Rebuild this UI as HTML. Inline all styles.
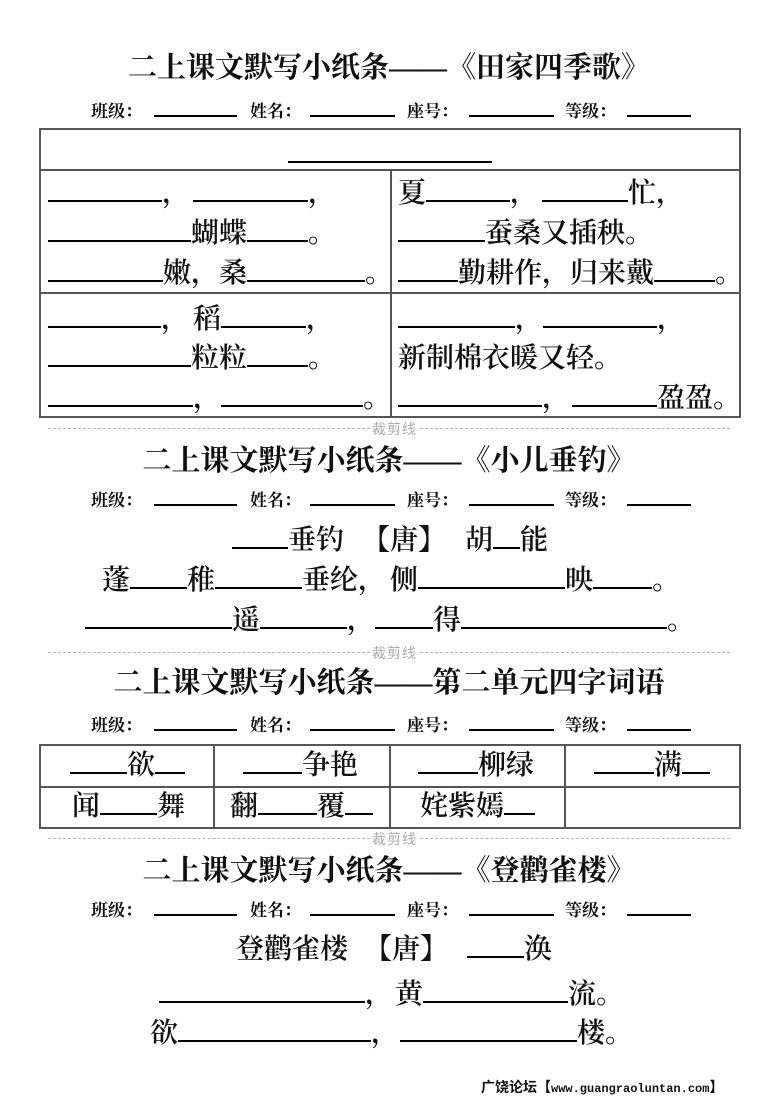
<!DOCTYPE html>
<html><head><meta charset="utf-8">
<style>
html,body{margin:0;padding:0;background:#fff;}
body{width:780px;height:1103px;position:relative;overflow:hidden;}
.t{position:absolute;left:0;width:778px;text-align:center;white-space:nowrap;font-family:"Liberation Serif","Noto Serif CJK SC",serif;font-weight:bold;font-size:29px;line-height:40px;height:40px;color:#111;}
.l{position:absolute;white-space:nowrap;font-family:"Liberation Serif","Noto Serif CJK SC",serif;font-weight:600;font-size:28px;line-height:40px;height:40px;color:#111;}
.i{position:absolute;left:91px;white-space:nowrap;font-family:"Liberation Serif","Noto Serif CJK SC",serif;font-weight:bold;font-size:17px;line-height:24px;height:24px;color:#111;}
.u{display:inline-block;height:0;border-bottom:2px solid #000;vertical-align:baseline;}
.box{position:absolute;border:2px solid #555;box-sizing:border-box;}
.h{position:absolute;height:2px;background:#555;}
.v{position:absolute;width:2px;background:#555;}
.cut{position:absolute;left:48px;width:682px;height:16px;}
.cut .a{position:absolute;top:7px;height:0;border-top:1px dashed #b5b5b5;}
.cut .lab{position:absolute;left:324px;top:-2px;font-family:"Liberation Sans","Noto Sans CJK SC",sans-serif;font-size:14px;line-height:20px;color:#aaa;letter-spacing:1px;}
.ft{position:absolute;left:481px;top:1077px;white-space:nowrap;font-family:"Liberation Sans","Noto Sans CJK SC",sans-serif;font-weight:bold;font-size:14px;line-height:20px;color:#111;}
.ft .m{font-family:"Liberation Mono",monospace;font-size:12px;}
</style></head><body>

<!-- Section 1 -->
<div class="t" style="top:48px;">二上课文默写小纸条——《田家四季歌》</div>
<div class="i" style="top:100px;">班级：<span class="u" style="margin-left:12px;width:83px"></span><span style="margin-left:13px">姓名：</span><span class="u" style="margin-left:9px;width:85px"></span><span style="margin-left:12px">座号：</span><span class="u" style="margin-left:11px;width:85px"></span><span style="margin-left:11px">等级：</span><span class="u" style="margin-left:11px;width:64px"></span></div>

<div class="box" style="left:39px;top:128px;width:702px;height:290px;"></div>
<div class="h" style="left:39px;top:169px;width:702px;"></div>
<div class="h" style="left:39px;top:292px;width:702px;"></div>
<div class="v" style="left:390px;top:169px;height:249px;"></div>
<div style="position:absolute;left:288px;top:161px;width:204px;height:2px;background:#000;"></div>

<div class="l" style="left:48px;top:174px;"><span class="u" style="width:114px"></span>，<span class="u" style="margin-left:3px;width:115px"></span>，</div>
<div class="l" style="left:48px;top:214px;"><span class="u" style="width:143px"></span>蝴蝶<span class="u" style="width:61px"></span>。</div>
<div class="l" style="left:48px;top:254px;"><span class="u" style="width:115px"></span>嫩，桑<span class="u" style="width:118px"></span>。</div>

<div class="l" style="left:398px;top:174px;">夏<span class="u" style="width:84px"></span>，<span class="u" style="margin-left:4px;width:86px"></span>忙，</div>
<div class="l" style="left:398px;top:214px;"><span class="u" style="width:87px"></span>蚕桑又插秧。</div>
<div class="l" style="left:398px;top:254px;"><span class="u" style="width:60px"></span>勤耕作，归来戴<span class="u" style="width:61px"></span>。</div>

<div class="l" style="left:48px;top:300px;"><span class="u" style="width:113px"></span>，<span style="margin-left:4px">稻</span><span class="u" style="width:85px"></span>，</div>
<div class="l" style="left:48px;top:339px;"><span class="u" style="width:143px"></span>粒粒<span class="u" style="width:61px"></span>。</div>
<div class="l" style="left:48px;top:379px;"><span class="u" style="width:145px"></span>，<span class="u" style="width:142px"></span>。</div>

<div class="l" style="left:398px;top:300px;"><span class="u" style="width:117px"></span>，<span class="u" style="width:114px"></span>，</div>
<div class="l" style="left:398px;top:339px;">新制棉衣暖又轻。</div>
<div class="l" style="left:398px;top:379px;"><span class="u" style="width:144px"></span>，<span class="u" style="margin-left:2px;width:85px"></span>盈盈。</div>

<div class="cut" style="top:421px;"><div class="a" style="left:0;width:322px;"></div><div class="lab">裁剪线</div><div class="a" style="left:372px;width:310px;"></div></div>

<!-- Section 2 -->
<div class="t" style="top:441px;">二上课文默写小纸条——《小儿垂钓》</div>
<div class="i" style="top:489px;">班级：<span class="u" style="margin-left:12px;width:83px"></span><span style="margin-left:13px">姓名：</span><span class="u" style="margin-left:9px;width:85px"></span><span style="margin-left:12px">座号：</span><span class="u" style="margin-left:11px;width:85px"></span><span style="margin-left:11px">等级：</span><span class="u" style="margin-left:11px;width:64px"></span></div>

<div class="l" style="left:232px;top:521px;"><span class="u" style="width:56px"></span>垂钓<span style="margin-left:18px">【唐】</span><span style="margin-left:19px">胡</span><span class="u" style="width:27px"></span>能</div>
<div class="l" style="left:102px;top:561px;">蓬<span class="u" style="width:57px"></span>稚<span class="u" style="width:87px"></span>垂纶，<span style="margin-left:4px">侧</span><span class="u" style="width:147px"></span>映<span class="u" style="width:59px"></span>。</div>
<div class="l" style="left:85px;top:601px;"><span class="u" style="width:147px"></span>遥<span class="u" style="width:87px"></span>，<span class="u" style="width:58px"></span>得<span class="u" style="width:206px"></span>。</div>

<div class="cut" style="top:645px;"><div class="a" style="left:0;width:322px;"></div><div class="lab">裁剪线</div><div class="a" style="left:372px;width:310px;"></div></div>

<!-- Section 3 -->
<div class="t" style="top:663px;">二上课文默写小纸条——第二单元四字词语</div>
<div class="i" style="top:714px;">班级：<span class="u" style="margin-left:12px;width:83px"></span><span style="margin-left:13px">姓名：</span><span class="u" style="margin-left:9px;width:85px"></span><span style="margin-left:12px">座号：</span><span class="u" style="margin-left:11px;width:85px"></span><span style="margin-left:11px">等级：</span><span class="u" style="margin-left:11px;width:64px"></span></div>

<div class="box" style="left:39px;top:744px;width:702px;height:85px;"></div>
<div class="h" style="left:39px;top:786px;width:702px;"></div>
<div class="v" style="left:213px;top:744px;height:85px;"></div>
<div class="v" style="left:389px;top:744px;height:85px;"></div>
<div class="v" style="left:564px;top:744px;height:85px;"></div>

<div class="l" style="left:70px;top:746px;"><span class="u" style="width:57px"></span>欲<span class="u" style="width:30px"></span></div>
<div class="l" style="left:243px;top:746px;"><span class="u" style="width:59px"></span>争艳</div>
<div class="l" style="left:418px;top:746px;"><span class="u" style="width:60px"></span>柳绿</div>
<div class="l" style="left:594px;top:746px;"><span class="u" style="width:60px"></span>满<span class="u" style="width:28px"></span></div>
<div class="l" style="left:72px;top:787px;">闻<span class="u" style="width:57px"></span>舞</div>
<div class="l" style="left:230px;top:787px;">翻<span class="u" style="width:59px"></span>覆<span class="u" style="width:28px"></span></div>
<div class="l" style="left:420px;top:787px;">姹紫嫣<span class="u" style="width:31px"></span></div>

<div class="cut" style="top:831px;"><div class="a" style="left:0;width:322px;"></div><div class="lab">裁剪线</div><div class="a" style="left:372px;width:310px;"></div></div>

<!-- Section 4 -->
<div class="t" style="top:851px;">二上课文默写小纸条——《登鹳雀楼》</div>
<div class="i" style="top:899px;">班级：<span class="u" style="margin-left:12px;width:83px"></span><span style="margin-left:13px">姓名：</span><span class="u" style="margin-left:9px;width:85px"></span><span style="margin-left:12px">座号：</span><span class="u" style="margin-left:11px;width:85px"></span><span style="margin-left:11px">等级：</span><span class="u" style="margin-left:11px;width:64px"></span></div>

<div class="l" style="left:236px;top:930px;">登鹳雀楼<span style="margin-left:16px">【唐】</span><span class="u" style="margin-left:19px;width:57px"></span>涣</div>
<div class="l" style="left:159px;top:975px;"><span class="u" style="width:206px"></span>，<span style="margin-left:2px">黄</span><span class="u" style="width:145px"></span>流。</div>
<div class="l" style="left:150px;top:1014px;">欲<span class="u" style="width:193px"></span>，<span class="u" style="margin-left:1px;width:177px"></span>楼。</div>

<div class="ft">广饶论坛【<span class="m">www.guangraoluntan.com</span>】</div>

</body></html>
